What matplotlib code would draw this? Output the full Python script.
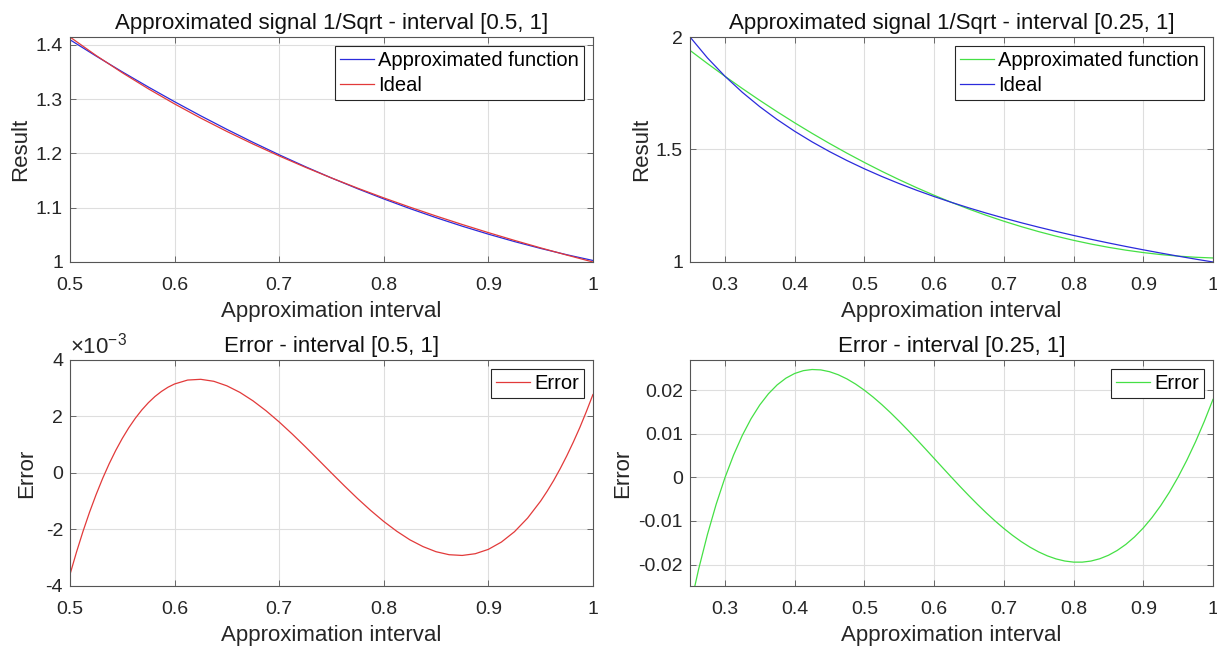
import matplotlib
matplotlib.use("Agg")
import matplotlib.pyplot as plt

plt.rcParams['font.family'] = ['Liberation Sans', 'DejaVu Sans']
plt.rcParams['font.size'] = 14
plt.rcParams['axes.unicode_minus'] = False
plt.rcParams['mathtext.fontset'] = 'custom'
plt.rcParams['mathtext.rm'] = 'Liberation Sans'

# ---- interval [0.5, 1] ----
x_a = [0.5, 0.525, 0.55, 0.575, 0.6, 0.625, 0.65, 0.675, 0.7, 0.725, 0.75,
       0.775, 0.8, 0.825, 0.85, 0.875, 0.9, 0.925, 0.95, 0.975, 1.0]
approx_a = [1.409134, 1.379078, 1.350048, 1.322042, 1.295060, 1.269104, 1.244174,
            1.220268, 1.197387, 1.175532, 1.154701, 1.134895, 1.116115, 1.098359,
            1.081629, 1.065924, 1.051243, 1.037588, 1.024957, 1.013353, 1.002775]
ideal_a = [1.414214, 1.380131, 1.348400, 1.318760, 1.290994, 1.264911, 1.240347,
           1.217161, 1.195229, 1.174440, 1.154701, 1.135924, 1.118034, 1.100964,
           1.084652, 1.069045, 1.054093, 1.039750, 1.025978, 1.012739, 1.000000]

# error in units of 1e-3
xe_a = [0.5, 0.50625, 0.5125, 0.51875, 0.525, 0.53125, 0.5375, 0.54375, 0.55,
        0.55625, 0.5625, 0.56875, 0.575, 0.58125, 0.5875, 0.59375, 0.6, 0.6125,
        0.625, 0.6375, 0.65, 0.6625, 0.675, 0.6875, 0.7, 0.7125, 0.725, 0.7375,
        0.75, 0.7625, 0.775, 0.7875, 0.8, 0.8125, 0.825, 0.8375, 0.85, 0.8625,
        0.875, 0.8875, 0.9, 0.9125, 0.925, 0.9375, 0.95, 0.95625, 0.9625, 0.96875,
        0.975, 0.98125, 0.9875, 0.99375, 1.0]
err_a = [-3.592, -2.798, -2.062, -1.384, -0.763, -0.191, 0.328, 0.798, 1.222,
         1.602, 1.938, 2.233, 2.489, 2.707, 2.887, 3.036, 3.150, 3.289,
         3.315, 3.245, 3.085, 2.852, 2.553, 2.201, 1.806, 1.379, 0.930, 0.467,
         0.000, -0.460, -0.906, -1.326, -1.716, -2.064, -2.366, -2.605, -2.787, -2.893,
         -2.919, -2.858, -2.704, -2.445, -2.079, -1.598, -0.995, -0.645, -0.264, 0.155,
         0.606, 1.093, 1.611, 2.175, 2.775]

# ---- interval [0.25, 1] ----
x_b = [0.25, 0.275, 0.3, 0.325, 0.35, 0.375, 0.4, 0.425, 0.45, 0.475, 0.5,
       0.525, 0.55, 0.575, 0.6, 0.625, 0.65, 0.675, 0.7, 0.725, 0.75, 0.775,
       0.8, 0.825, 0.85, 0.875, 0.9, 0.925, 0.95, 0.975, 1.0]
approx_b = [1.940355, 1.881998, 1.825545, 1.770995, 1.718350, 1.667608, 1.618770,
            1.571837, 1.526808, 1.483681, 1.442460, 1.403142, 1.365729, 1.330219,
            1.296613, 1.264911, 1.235114, 1.207219, 1.181230, 1.157143, 1.134962,
            1.114684, 1.096310, 1.079840, 1.065274, 1.052612, 1.041854, 1.033000,
            1.026050, 1.021003, 1.017863]
ideal_b = [2.000000, 1.906925, 1.825742, 1.754116, 1.690309, 1.632993, 1.581139,
           1.533930, 1.490712, 1.450953, 1.414214, 1.380131, 1.348400, 1.318760,
           1.290994, 1.264911, 1.240347, 1.217161, 1.195229, 1.174440, 1.154701,
           1.135924, 1.118034, 1.100964, 1.084652, 1.069045, 1.054093, 1.039750,
           1.025978, 1.012739, 1.000000]

xe_b = [0.25, 0.2625, 0.275, 0.2875, 0.3, 0.3125, 0.325, 0.3375, 0.35, 0.3625,
        0.375, 0.3875, 0.4, 0.4125, 0.425, 0.4375, 0.45, 0.4625, 0.475, 0.4875,
        0.5, 0.5125, 0.525, 0.5375, 0.55, 0.5625, 0.575, 0.5875, 0.6, 0.6125,
        0.625, 0.6375, 0.65, 0.6625, 0.675, 0.6875, 0.7, 0.7125, 0.725, 0.7375,
        0.75, 0.7625, 0.775, 0.7875, 0.8, 0.8125, 0.825, 0.8375, 0.85, 0.8625,
        0.875, 0.8875, 0.9, 0.9125, 0.925, 0.9375, 0.95, 0.9625, 0.975, 0.9875, 1.0]
err_b = [-0.029823, -0.020934, -0.013072, -0.006153, -0.000108, 0.005131, 0.009623,
         0.013427, 0.016589, 0.019166, 0.021197, 0.022729, 0.023800, 0.024450,
         0.024712, 0.024624, 0.024214, 0.023516, 0.022556, 0.021369, 0.019973,
         0.018402, 0.016673, 0.014817, 0.012851, 0.010802, 0.008689, 0.006532,
         0.004352, 0.002170, 0.000000, -0.002135, -0.004219, -0.006235, -0.008168,
         -0.009998, -0.011712, -0.013293, -0.014728, -0.015998, -0.017094, -0.017999,
         -0.018698, -0.019179, -0.019430, -0.019436, -0.019187, -0.018665, -0.017866,
         -0.016769, -0.015372, -0.013655, -0.011611, -0.009225, -0.006492, -0.003396,
         0.000070, 0.003924, 0.008160, 0.012807, 0.017863]

x_ticks_a = [0.5, 0.6, 0.7, 0.8, 0.9, 1.0]
x_labels_a = ['0.5', '0.6', '0.7', '0.8', '0.9', '1']
x_ticks_b = [0.3, 0.4, 0.5, 0.6, 0.7, 0.8, 0.9, 1.0]
x_labels_b = ['0.3', '0.4', '0.5', '0.6', '0.7', '0.8', '0.9', '1']

BLUE = '#2b2bdc'
RED = '#e23a3a'
GREEN = '#45e045'
AX_COLOR = '#262626'
LW = 0.9
TXT = 16

fig = plt.figure(figsize=(12.17, 6.48), dpi=100)
ax_tl = fig.add_axes([0.0575, 0.5957, 0.4297, 0.3472])
ax_tr = fig.add_axes([0.5670, 0.5957, 0.4297, 0.3472])
ax_bl = fig.add_axes([0.0575, 0.0957, 0.4297, 0.3488])
ax_br = fig.add_axes([0.5670, 0.0957, 0.4297, 0.3488])


def style(ax):
    ax.grid(True, color='#dedede', linewidth=0.8)
    ax.set_axisbelow(True)
    for s in ax.spines.values():
        s.set_color('#555555')
        s.set_linewidth(0.8)
    ax.tick_params(direction='in', length=4, width=0.6, colors='#555555',
                   labelcolor=AX_COLOR, top=True, right=True, labelsize=14)
    ax.tick_params(axis='x', pad=11)
    ax.tick_params(axis='y', pad=5)


def legend(ax):
    lg = ax.legend(loc='upper right', fancybox=False, framealpha=1,
                   edgecolor=AX_COLOR, handlelength=1.7, handletextpad=0.2,
                   borderpad=0.25, labelspacing=0.3, borderaxespad=0.45,
                   fontsize=14.5)
    lg.get_frame().set_linewidth(0.8)


def labels(ax, title, ylabel, ypad):
    ax.set_title(title, fontsize=TXT, pad=6, color='#111111')
    ax.set_xlabel('Approximation interval', fontsize=TXT, labelpad=5, color=AX_COLOR)
    ax.set_ylabel(ylabel, fontsize=TXT, labelpad=ypad, color=AX_COLOR)


# top left
ax_tl.plot(x_a, approx_a, color=BLUE, lw=LW, label='Approximated function')
ax_tl.plot(x_a, ideal_a, color=RED, lw=LW, label='Ideal')
ax_tl.set_xlim(0.5, 1)
ax_tl.set_ylim(1, 1.4142)
ax_tl.set_xticks(x_ticks_a)
ax_tl.set_xticklabels(x_labels_a)
ax_tl.set_yticks([1.0, 1.1, 1.2, 1.3, 1.4])
ax_tl.set_yticklabels(['1', '1.1', '1.2', '1.3', '1.4'])
labels(ax_tl, 'Approximated signal 1/Sqrt - interval [0.5, 1]', 'Result', 3)
style(ax_tl)
legend(ax_tl)

# top right
ax_tr.plot(x_b, approx_b, color=GREEN, lw=LW, label='Approximated function')
ax_tr.plot(x_b, ideal_b, color=BLUE, lw=LW, label='Ideal')
ax_tr.set_xlim(0.25, 1)
ax_tr.set_ylim(1, 2)
ax_tr.set_xticks(x_ticks_b)
ax_tr.set_xticklabels(x_labels_b)
ax_tr.set_yticks([1.0, 1.5, 2.0])
ax_tr.set_yticklabels(['1', '1.5', '2'])
labels(ax_tr, 'Approximated signal 1/Sqrt - interval [0.25, 1]', 'Result', 3)
style(ax_tr)
legend(ax_tr)

# bottom left (values in 1e-3)
ax_bl.plot(xe_a, err_a, color=RED, lw=LW, label='Error')
ax_bl.set_xlim(0.5, 1)
ax_bl.set_ylim(-4, 4)
ax_bl.set_xticks(x_ticks_a)
ax_bl.set_xticklabels(x_labels_a)
ax_bl.set_yticks([-4, -2, 0, 2, 4])
ax_bl.set_yticklabels(['-4', '-2', '0', '2', '4'])
labels(ax_bl, 'Error - interval [0.5, 1]', 'Error', 6)
style(ax_bl)
ax_bl.text(0.0, 1.008, r'$\times10^{-3}$', transform=ax_bl.transAxes,
           ha='left', va='bottom', fontsize=16, color=AX_COLOR)
legend(ax_bl)

# bottom right
ax_br.plot(xe_b, err_b, color=GREEN, lw=LW, label='Error')
ax_br.set_xlim(0.25, 1)
ax_br.set_ylim(-0.0249, 0.0269)
ax_br.set_xticks(x_ticks_b)
ax_br.set_xticklabels(x_labels_b)
ax_br.set_yticks([-0.02, -0.01, 0, 0.01, 0.02])
ax_br.set_yticklabels(['-0.02', '-0.01', '0', '0.01', '0.02'])
labels(ax_br, 'Error - interval [0.25, 1]', 'Error', 4)
style(ax_br)
legend(ax_br)

fig.savefig('out.png', dpi=100)
